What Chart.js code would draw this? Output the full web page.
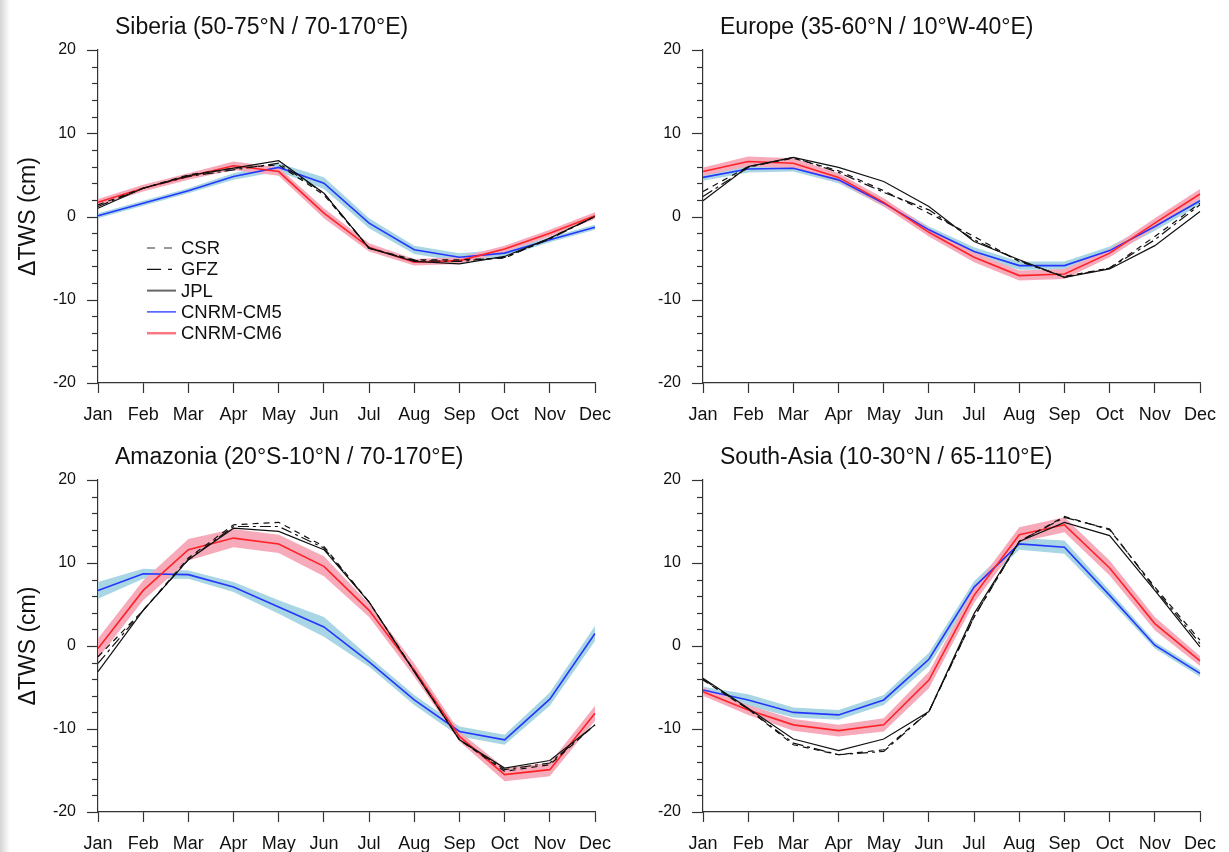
<!DOCTYPE html>
<html>
<head>
<meta charset="utf-8">
<script src="https://cdn.jsdelivr.net/npm/chart.js@4.4.1/dist/chart.umd.min.js"></script>
<style>
  html, body { margin: 0; padding: 0; background: #fff; width: 1229px; height: 852px; overflow: hidden; }
  .panel { position: absolute; }
  .edge { position: absolute; left: 0; top: 0; width: 10px; height: 852px; background: linear-gradient(to right, #d4d4d4, #ffffff); z-index: 2; }
</style>
</head>
<body>
<div class="edge"></div>
<div class="panel" style="left:0;top:0;width:614px;height:426px"><canvas id="sib"></canvas></div>
<div class="panel" style="left:614px;top:0;width:615px;height:426px"><canvas id="eur"></canvas></div>
<div class="panel" style="left:0;top:430px;width:614px;height:426px"><canvas id="amz"></canvas></div>
<div class="panel" style="left:614px;top:430px;width:615px;height:426px"><canvas id="sas"></canvas></div>
<script>
let months = ["Jan", "Feb", "Mar", "Apr", "May", "Jun", "Jul", "Aug", "Sep", "Oct", "Nov", "Dec"];
let yTicks = [-20, -10, 0, 10, 20];

/////////// DATA (cm) /////////////

// Siberia
let sibCSR = [1.4, 3.4, 5.0, 5.8, 6.2, 2.6, -3.8, -5.2, -5.2, -5.0, -2.6, 0.0];
let sibGFZ = [1.2, 3.4, 4.8, 5.6, 6.4, 2.8, -3.8, -5.3, -5.4, -4.9, -2.7, 0.0];
let sibJPL = [1.0, 3.4, 4.9, 5.8, 6.7, 2.8, -3.8, -5.4, -5.7, -4.8, -2.6, 0.0];
let sibCM5 = [0.1, 1.6, 3.1, 4.8, 5.9, 4.0, -0.8, -4.0, -4.9, -4.4, -2.8, -1.3];
let sibCM6 = [1.7, 3.4, 4.8, 6.1, 5.4, 0.4, -3.7, -5.5, -5.3, -3.9, -2.0, 0.1];
let sibCM5Spread = [0.3, 0.3, 0.3, 0.4, 0.5, 0.7, 0.6, 0.5, 0.5, 0.4, 0.3, 0.3];
let sibCM6Spread = [0.4, 0.4, 0.4, 0.5, 0.5, 0.6, 0.5, 0.4, 0.4, 0.4, 0.4, 0.4];

// Europe
let eurCSR = [3.0, 6.0, 7.0, 5.5, 3.1, 0.4, -2.4, -5.4, -7.2, -6.2, -2.4, 1.6];
let eurGFZ = [2.4, 5.9, 7.1, 5.3, 2.9, 0.8, -2.8, -5.3, -7.3, -6.2, -2.8, 1.4];
let eurJPL = [1.9, 6.0, 7.1, 5.9, 4.2, 1.2, -3.0, -5.2, -7.3, -6.3, -3.5, 0.6];
let eurCM5 = [4.7, 5.7, 5.8, 4.4, 1.6, -1.6, -4.2, -5.9, -5.9, -4.1, -1.2, 1.9];
let eurCM6 = [5.4, 6.6, 6.4, 4.7, 1.7, -1.9, -4.9, -7.1, -6.9, -4.4, -0.8, 2.7];
let eurCM5Spread = [0.4, 0.4, 0.4, 0.4, 0.4, 0.4, 0.5, 0.5, 0.5, 0.5, 0.5, 0.5];
let eurCM6Spread = [0.5, 0.6, 0.6, 0.5, 0.5, 0.5, 0.6, 0.6, 0.6, 0.5, 0.6, 0.6];

// Amazonia
let amzCSR = [-1.3, 4.3, 10.6, 14.6, 14.9, 12.0, 5.3, -3.0, -11.3, -15.1, -14.3, -9.5];
let amzGFZ = [-2.1, 4.3, 10.4, 14.4, 14.4, 11.8, 5.3, -3.1, -11.3, -14.9, -14.1, -9.5];
let amzJPL = [-3.1, 4.3, 10.4, 14.2, 13.8, 11.6, 5.3, -3.1, -11.3, -14.7, -13.8, -9.5];
let amzCM5 = [6.7, 8.7, 8.6, 7.1, 4.7, 2.3, -1.9, -6.5, -10.3, -11.3, -6.4, 1.5];
let amzCM6 = [-0.3, 6.7, 11.6, 13.0, 12.3, 9.6, 4.3, -2.9, -10.9, -15.5, -14.9, -8.1];
let amzCM5Spread = [1.0, 0.6, 0.5, 0.6, 0.8, 1.2, 0.6, 0.6, 0.6, 0.6, 0.8, 0.9];
let amzCM6Spread = [1.2, 1.2, 1.3, 1.1, 1.1, 1.2, 0.8, 0.8, 0.6, 0.8, 0.8, 0.9];

// South-Asia
let sasCSR = [-4.1, -7.6, -11.9, -13.1, -12.5, -7.9, 3.5, 12.6, 15.6, 14.0, 7.1, 0.7];
let sasGFZ = [-4.0, -7.6, -11.7, -13.1, -12.7, -7.9, 3.5, 12.6, 15.5, 14.1, 6.9, 0.3];
let sasJPL = [-3.9, -7.5, -11.2, -12.6, -11.2, -7.9, 3.9, 12.6, 14.9, 13.3, 6.7, -0.1];
let sasCM5 = [-5.3, -6.5, -8.0, -8.3, -6.5, -1.6, 7.1, 12.3, 11.9, 6.1, 0.1, -3.3];
let sasCM6 = [-5.5, -7.7, -9.5, -10.2, -9.5, -4.1, 6.1, 13.4, 14.6, 9.4, 2.7, -1.8];
let sasCM5Spread = [0.4, 0.7, 0.6, 0.6, 0.6, 0.8, 0.7, 0.7, 0.8, 0.6, 0.4, 0.4];
let sasCM6Spread = [0.5, 0.6, 0.7, 0.7, 0.8, 1.0, 0.9, 0.9, 0.9, 0.9, 0.8, 0.6];

/////////// STYLES /////////////

let fontFamily = '"Liberation Sans", Arial, Helvetica, sans-serif';
let axisColor = "#333333";
let cm5Color = "rgb(35, 55, 255)";
let cm5Band = "rgb(168, 214, 228)";
let cm6Color = "rgb(255, 35, 40)";
let cm6Band = "rgb(247, 170, 186)";
let csrDash = [6, 5];
let gfzDash = [11, 4, 3, 4];

// y ticks: majors every 10, minors every 2, drawn outward
let yTickMarks = {
    id: "yTickMarks",
    afterDraw(chart) {
        let ctx = chart.ctx;
        let scale = chart.scales.y;
        let x0 = chart.chartArea.left;
        ctx.save();
        ctx.strokeStyle = axisColor;
        ctx.lineWidth = 1.2;
        scale.ticks.forEach((t) => {
            let y = Math.round(scale.getPixelForValue(t.value)) + 0.5;
            let len = yTicks.includes(t.value) ? 11 : 6;
            ctx.beginPath();
            ctx.moveTo(x0 - len, y);
            ctx.lineTo(x0, y);
            ctx.stroke();
        });
        ctx.restore();
    },
};

// panel title, left aligned over the plot
let panelTitle = {
    id: "panelTitle",
    afterDraw(chart, args, opts) {
        let ctx = chart.ctx;
        ctx.save();
        ctx.fillStyle = "#111111";
        ctx.font = "23px " + fontFamily;
        ctx.textBaseline = "middle";
        ctx.textAlign = "left";
        ctx.fillText(opts.text, chart.chartArea.left + 17, 28);
        ctx.restore();
    },
};

// legend inside the Siberia panel
let insideLegend = {
    id: "insideLegend",
    afterDraw(chart, args, opts) {
        if (!opts.show) return;
        let ctx = chart.ctx;
        let items = [
            { text: "CSR", color: "#777777", width: 1.5, dash: [8, 9] },
            { text: "GFZ", color: "#111111", width: 1.3, dash: [14, 7, 4, 40] },
            { text: "JPL", color: "#666666", width: 2, dash: [] },
            { text: "CNRM-CM5", color: cm5Color, width: 1.3, dash: [] },
            { text: "CNRM-CM6", color: "rgb(250, 120, 130)", width: 2.5, dash: [] },
        ];
        ctx.save();
        ctx.font = "18.5px " + fontFamily;
        ctx.textBaseline = "middle";
        items.forEach((it, i) => {
            let y = 248 + i * 21.3;
            ctx.strokeStyle = it.color;
            ctx.lineWidth = it.width;
            ctx.setLineDash(it.dash);
            ctx.beginPath();
            ctx.moveTo(147, y);
            ctx.lineTo(176, y);
            ctx.stroke();
            ctx.setLineDash([]);
            ctx.fillStyle = "#111111";
            ctx.fillText(it.text, 181, y + 1);
        });
        ctx.restore();
    },
};

function bandEdge(values, spread, sign) {
    return values.map((v, i) => v + sign * spread[i]);
}

function makePanel(canvasId, title, csr, gfz, jpl, cm5, cm5Spread, cm6, cm6Spread, isLeft, isTop, showLegend) {
    let lineBase = { pointRadius: 0, tension: 0, fill: false };
    let data = {
        labels: months,
        datasets: [
            { ...lineBase, data: bandEdge(cm5, cm5Spread, -1), borderWidth: 0, order: 20 },
            { ...lineBase, data: bandEdge(cm5, cm5Spread, 1), borderWidth: 0, fill: "-1", backgroundColor: cm5Band, order: 19 },
            { ...lineBase, data: bandEdge(cm6, cm6Spread, -1), borderWidth: 0, order: 18 },
            { ...lineBase, data: bandEdge(cm6, cm6Spread, 1), borderWidth: 0, fill: "-1", backgroundColor: cm6Band, order: 17 },
            { ...lineBase, label: "CNRM-CM5", data: cm5, borderColor: cm5Color, borderWidth: 1.6, order: 6 },
            { ...lineBase, label: "CNRM-CM6", data: cm6, borderColor: cm6Color, borderWidth: 1.6, order: 5 },
            { ...lineBase, label: "CSR", data: csr, borderColor: "#111111", borderWidth: 1.2, borderDash: csrDash, order: 3 },
            { ...lineBase, label: "GFZ", data: gfz, borderColor: "#111111", borderWidth: 1.2, borderDash: gfzDash, order: 2 },
            { ...lineBase, label: "JPL", data: jpl, borderColor: "#111111", borderWidth: 1.2, order: 1 },
        ],
    };

    let options = {
        responsive: true,
        maintainAspectRatio: false,
        animation: false,
        layout: {
            padding: { top: 50, left: 0, right: isLeft ? 19 : 29, bottom: 0 },
        },
        scales: {
            x: {
                type: "category",
                offset: false,
                afterFit: (s) => {
                    s.height = isTop ? 43 : 44;
                    s.paddingLeft = 0;
                    s.paddingRight = 0;
                },
                grid: { display: true, drawOnChartArea: false, drawTicks: true, tickLength: 10, color: axisColor, tickWidth: 1.2 },
                border: { display: true, color: axisColor, width: 1.2 },
                ticks: {
                    color: "#111111",
                    padding: 11,
                    maxRotation: 0,
                    autoSkip: false,
                    font: { family: fontFamily, size: 18 },
                },
            },
            y: {
                min: -20,
                max: 20,
                afterFit: (s) => { s.width = isLeft ? 98 : 89; },
                grid: { display: true, drawOnChartArea: false, drawTicks: false },
                border: { display: true, color: axisColor, width: 1.2 },
                ticks: {
                    stepSize: 2,
                    autoSkip: false,
                    padding: 22,
                    color: "#111111",
                    font: { family: fontFamily, size: 16 },
                    callback: (v) => (yTicks.includes(v) ? v : ""),
                },
                title: {
                    display: isLeft,
                    text: "ΔTWS (cm)",
                    color: "#111111",
                    padding: { top: 15, bottom: 0 },
                    font: { family: fontFamily, size: 23 },
                },
            },
        },
        plugins: {
            legend: { display: false },
            tooltip: { enabled: false },
            panelTitle: { text: title },
            insideLegend: { show: showLegend },
        },
    };

    return new Chart(document.getElementById(canvasId), {
        type: "line",
        data: data,
        options: options,
        plugins: [yTickMarks, panelTitle, insideLegend],
    });
}

let siberiaGraph = makePanel("sib", "Siberia (50-75°N / 70-170°E)", sibCSR, sibGFZ, sibJPL, sibCM5, sibCM5Spread, sibCM6, sibCM6Spread, true, true, true);
let europeGraph = makePanel("eur", "Europe (35-60°N / 10°W-40°E)", eurCSR, eurGFZ, eurJPL, eurCM5, eurCM5Spread, eurCM6, eurCM6Spread, false, true, false);
let amazoniaGraph = makePanel("amz", "Amazonia (20°S-10°N / 70-170°E)", amzCSR, amzGFZ, amzJPL, amzCM5, amzCM5Spread, amzCM6, amzCM6Spread, true, false, false);
let southAsiaGraph = makePanel("sas", "South-Asia (10-30°N / 65-110°E)", sasCSR, sasGFZ, sasJPL, sasCM5, sasCM5Spread, sasCM6, sasCM6Spread, false, false, false);
</script>
</body>
</html>
